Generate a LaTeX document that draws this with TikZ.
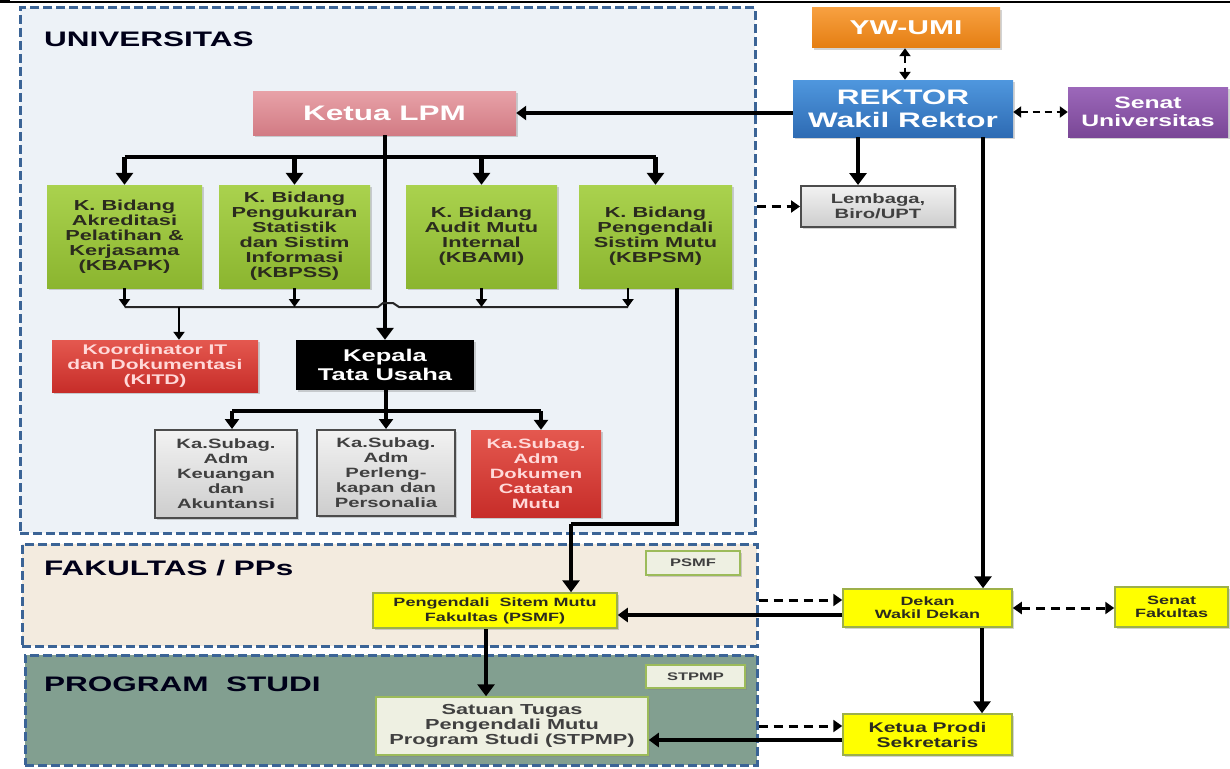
\documentclass[tikz,border=0pt]{standalone}
\usepackage{fontspec}
\setmainfont{Liberation Sans}[FakeStretch=1.5]
\usetikzlibrary{arrows.meta,shadows}
\definecolor{regionblue}{HTML}{3B6496}
\definecolor{univbg}{HTML}{EDF2F7}
\definecolor{fakbg}{HTML}{F3EBDF}
\definecolor{prodibg}{HTML}{829F90}
\definecolor{orgT}{HTML}{F7A040}\definecolor{orgB}{HTML}{E57E12}
\definecolor{bluT}{HTML}{4F97DE}\definecolor{bluB}{HTML}{2E6BB3}
\definecolor{purT}{HTML}{9C68BA}\definecolor{purB}{HTML}{7A4796}
\definecolor{pinkT}{HTML}{E8A2A8}\definecolor{pinkB}{HTML}{D27B84}
\definecolor{grnT}{HTML}{AAD24E}\definecolor{grnB}{HTML}{8BB52F}
\definecolor{redT}{HTML}{E4584F}\definecolor{redB}{HTML}{C72D29}
\definecolor{gryT}{HTML}{F2F2F2}\definecolor{gryB}{HTML}{CDCDCD}
\definecolor{ylw}{HTML}{FFFF00}
\definecolor{ylwborder}{HTML}{9DB04A}
\definecolor{lblfill}{HTML}{EEF0E2}
\definecolor{lblborder}{HTML}{9CBB5A}
\definecolor{darktxt}{HTML}{2B2B1E}
\newcommand\myfs[2]{\fontsize{#1}{#2}\selectfont\bfseries}
\begin{document}
\begin{tikzpicture}[x=1pt,y=-1pt,
  region/.style={draw=regionblue, line width=3pt, dash pattern=on 9pt off 4pt, inner sep=0pt},
  lbl/.style={inner sep=0pt, anchor=west, text=black!90!blue, font=\myfs{21}{24}},
  box/.style={inner sep=0pt, align=center, drop shadow={shadow xshift=2pt, shadow yshift=-2pt, opacity=0.35}},
  orgbox/.style={box, top color=orgT, bottom color=orgB, text=white},
  blubox/.style={box, top color=bluT, bottom color=bluB, text=white},
  purbox/.style={box, top color=purT, bottom color=purB, text=white},
  pinkbox/.style={box, top color=pinkT, bottom color=pinkB, text=white},
  grnbox/.style={box, top color=grnT, bottom color=grnB, text=darktxt, font=\myfs{14.5}{15}},
  redbox/.style={box, top color=redT, bottom color=redB, text=red!15!white},
  grybox/.style={box, top color=gryT, bottom color=gryB, draw=black!70, line width=2pt, text=black!75},
  blkbox/.style={box, fill=black, text=white},
  ylwbox/.style={box, fill=ylw, draw=ylwborder, line width=1.5pt, text=darktxt},
  tagbox/.style={box, fill=lblfill, draw=lblborder, line width=1.5pt, text=black!75},
  big/.style={line width=4.5pt, -{Triangle[length=12pt,width=17pt]}},
  med/.style={line width=3.5pt, -{Triangle[length=10pt,width=14pt]}},
  sml/.style={line width=2.2pt, -{Triangle[length=8pt,width=11pt]}},
  dsh/.style={line width=3pt, dash pattern=on 9pt off 6pt}
]
\useasboundingbox (0,0) rectangle (1230,768);
\draw[line width=1.5pt] (0,2) -- (1230,2);
\draw[line width=3pt] (0,2) -- (10,2);

% regions
\node[region, fill=univbg, minimum width=735pt, minimum height=525pt] (univ) at (387.5,270.5) {};
\node[region, fill=fakbg, minimum width=735pt, minimum height=102pt] (fak) at (389.5,595) {};
\node[region, fill=prodibg, minimum width=732pt, minimum height=110pt] (prodi) at (391,710) {};
\node[lbl] (univlbl) at (44,39) {UNIVERSITAS};
\node[lbl] (faklbl) at (44,568) {FAKULTAS / PPs};
\node[lbl] (prodilbl) at (44,684) {PROGRAM\ \ STUDI};

% top nodes
\node[orgbox, minimum width=188pt, minimum height=40pt, font=\myfs{20}{22}] (yw) at (906,28) {YW-UMI};
\node[blubox, minimum width=220pt, minimum height=57pt, font=\myfs{21}{23}] (rektor) at (903,108.5) {REKTOR\\Wakil Rektor};
\node[purbox, minimum width=160pt, minimum height=50pt, font=\myfs{16.5}{18}] (senat) at (1148,112) {Senat\\Universitas};
\node[pinkbox, minimum width=263pt, minimum height=44pt, font=\myfs{21}{23}] (lpm) at (384.5,113) {Ketua LPM};
\node[grybox, minimum width=154pt, minimum height=41pt, font=\myfs{13.5}{15}] (lembaga) at (878,206.5) {Lembaga,\\Biro/UPT};

% green
\node[grnbox, minimum width=155pt, minimum height=103pt] (kbapk) at (124.5,236.5) {K. Bidang\\Akreditasi\\Pelatihan \&\\Kerjasama\\(KBAPK)};
\node[grnbox, minimum width=151pt, minimum height=103pt] (kbpss) at (294.5,236.5) {K. Bidang\\Pengukuran\\Statistik\\dan Sistim\\Informasi\\(KBPSS)};
\node[grnbox, minimum width=151pt, minimum height=103pt] (kbami) at (481.5,236.5) {K. Bidang\\Audit Mutu\\Internal\\(KBAMI)};
\node[grnbox, minimum width=153pt, minimum height=103pt] (kbpsm) at (655.5,236.5) {K. Bidang\\Pengendali\\Sistim Mutu\\(KBPSM)};

\node[redbox, minimum width=206pt, minimum height=52pt, font=\myfs{14}{15}] (kitd) at (155,366) {Koordinator IT\\dan Dokumentasi\\(KITD)};
\node[blkbox, minimum width=178pt, minimum height=50pt, font=\myfs{17}{19}] (ktu) at (385,365) {Kepala\\Tata Usaha};

\node[grybox, minimum width=142pt, minimum height=88pt, font=\myfs{13.5}{15}] (sub1) at (226,474) {Ka.Subag.\\Adm\\Keuangan\\dan\\Akuntansi};
\node[grybox, minimum width=138pt, minimum height=86pt, font=\myfs{13.5}{15}] (sub2) at (386,473) {Ka.Subag.\\Adm\\Perleng-\\kapan dan\\Personalia};
\node[redbox, minimum width=130pt, minimum height=87pt, font=\myfs{13.5}{15}] (sub3) at (536,473.5) {Ka.Subag.\\Adm\\Dokumen\\Catatan\\Mutu};

% lower
\node[tagbox, minimum width=94pt, minimum height=24pt, font=\myfs{11}{12}] (psmflbl) at (693,563) {PSMF};
\node[ylwbox, minimum width=244pt, minimum height=35pt, font=\myfs{12}{15}] (psmf) at (495,610.5) {Pengendali\ \ Sitem Mutu\\Fakultas (PSMF)};
\node[tagbox, minimum width=99pt, minimum height=23pt, font=\myfs{11}{12}] (stpmplbl) at (695.5,676.5) {STPMP};
\node[tagbox, minimum width=272pt, minimum height=58pt, font=\myfs{14.5}{15}] (stpmp) at (512,726) {Satuan Tugas\\Pengendali Mutu\\Program Studi (STPMP)};
\node[ylwbox, minimum width=169pt, minimum height=38pt, font=\myfs{12}{13}] (dekan) at (927.5,608) {Dekan\\Wakil Dekan};
\node[ylwbox, minimum width=113pt, minimum height=40pt, font=\myfs{12}{13}] (senatf) at (1171.5,607) {Senat\\Fakultas};
\node[ylwbox, minimum width=169pt, minimum height=41pt, font=\myfs{14}{15}] (kprodi) at (927.5,734.5) {Ketua Prodi\\Sekretaris};

% connectors top
\draw[line width=2.5pt, dash pattern=on 7pt off 5pt, {Triangle[length=8pt,width=11pt]}-{Triangle[length=8pt,width=11pt]}] (yw.south -| 905,0) -- (rektor.north -| 905,0);
\draw[line width=2.5pt, dash pattern=on 7pt off 5pt, {Triangle[length=8pt,width=11pt]}-{Triangle[length=8pt,width=11pt]}] (rektor.east |- senat.west) -- (senat.west);
\draw[med] (rektor.west |- lpm.east) -- (lpm.east);
\draw[big] (rektor.south -| 858,0) -- (lembaga.north -| 858,0);
\draw[big] (rektor.south -| 983,0) -- (dekan.north -| 983,0);
\draw[dsh, -{Triangle[length=9pt,width=12pt]}] (univ.east |- lembaga.west) -- (lembaga.west);

% LPM distribution
\coordinate (hb) at (385,157);
\draw[line width=4.5pt] (kbapk.north |- hb) -- (kbpsm.north |- hb);
\foreach \n in {kbapk,kbpss,kbami,kbpsm}{\draw[big] (\n.north |- hb) -- (\n.north);}
\draw[big] (lpm.south -| hb) -- (ktu.north -| hb);

% bus below green
\coordinate (bus) at (0,307);
\draw[line width=2pt, black!85] (kbapk.south |- bus) -- (378,307) -- (383,303) -- (393,303) -- (399,307) -- (628,307);
\draw[sml] (kbapk.south) -- (kbapk.south |- bus);
\draw[sml] (kbpss.south) -- (kbpss.south |- bus);
\draw[sml] (kbami.south) -- (kbami.south |- bus);
\draw[sml] (kbpsm.south -| 628,0) -- (628,307);
\draw[sml] (179,307) -- (kitd.north -| 179,0);

% KBPSM -> PSMF
\coordinate (c1) at (677,524);
\coordinate (c2) at (571,524);
\draw[line width=4pt] (kbpsm.south -| c1) -- (c1) -- (c2);
\draw[big] (c2) -- (psmf.north -| c2);

% KTU -> subs
\coordinate (tb) at (386,411);
\draw[line width=4pt] (ktu.south -| tb) -- (tb);
\draw[line width=4pt] (232,411) -- (541,411);
\draw[med] (232,411) -- (sub1.north -| 232,0);
\draw[med] (tb) -- (sub2.north -| tb);
\draw[med] (541,411) -- (sub3.north -| 541,0);

% faculty level
\draw[med] ([yshift=-7pt]dekan.west) -- ([yshift=-7pt]dekan.west -| psmf.east);
\draw[dsh, -{Triangle[length=9pt,width=12pt]}] ([yshift=8pt]dekan.west -| fak.east) -- ([yshift=8pt]dekan.west);
\draw[dsh, {Triangle[length=9pt,width=12pt]}-{Triangle[length=9pt,width=12pt]}] (dekan.east) -- (dekan.east -| senatf.west);
\draw[big] (dekan.south -| 982,0) -- (kprodi.north -| 982,0);
\draw[big] (psmf.south -| 486,0) -- (stpmp.north -| 486,0);
\draw[med] ([yshift=-5.5pt]kprodi.west) -- ([yshift=-5.5pt]kprodi.west -| stpmp.east);
\draw[dsh, -{Triangle[length=9pt,width=12pt]}] ([yshift=8.5pt]kprodi.west -| prodi.east) -- ([yshift=8.5pt]kprodi.west);
\end{tikzpicture}
\end{document}
